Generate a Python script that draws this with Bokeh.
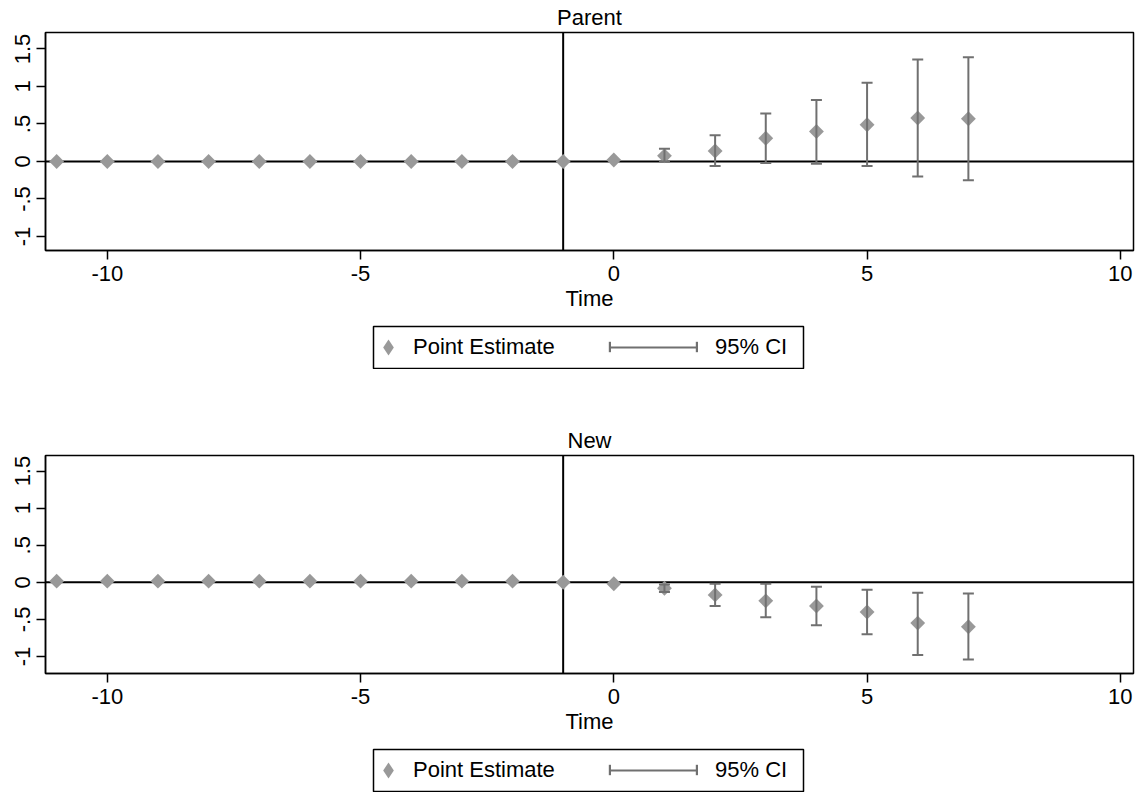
import numpy as np
from bokeh.plotting import figure
from bokeh.models import (ColumnDataSource, Span, Legend, LegendItem, FixedTicker,
                          Range1d, Spacer)
from bokeh.layouts import column, row
from bokeh.embed import file_html
from bokeh.resources import INLINE

nan = float("nan")

# ---- data ----
time = list(range(-11, 8))

parent_est = [0, 0, 0, 0, 0, 0, 0, 0, 0, 0, 0,
              0.02, 0.075, 0.14, 0.31, 0.40, 0.49, 0.58, 0.57]
parent_lo = [nan] * 12 + [0.0, -0.06, -0.02, -0.03, -0.06, -0.20, -0.25]
parent_hi = [nan] * 12 + [0.17, 0.35, 0.64, 0.82, 1.05, 1.36, 1.39]

new_est = [0.015] * 10 + [0.0, -0.02, -0.08, -0.17, -0.25, -0.32, -0.40, -0.55, -0.60]
new_lo = [nan] * 12 + [-0.13, -0.32, -0.47, -0.58, -0.70, -0.98, -1.04]
new_hi = [nan] * 12 + [-0.03, -0.02, -0.02, -0.06, -0.10, -0.14, -0.15]

x_ticks = [-10, -5, 0, 5, 10]
x_tick_labels = ["-10", "-5", "0", "5", "10"]
y_ticks = [1.5, 1, 0.5, 0, -0.5, -1]
y_tick_labels = ["1.5", "1", ".5", "0", "-.5", "-1"]

titles = ["Parent", "New"]
legend_labels = ["Point Estimate", "95% CI"]
x_label = "Time"

FONT = "Liberation Sans"
DIAMOND = "#999999"
BAR = "#707070"


def make_panel(title, src, y_rng, top_border):
    p = figure(frame_width=1088, frame_height=218,
               x_range=Range1d(-11.22, 10.26), y_range=Range1d(*y_rng),
               output_backend="svg", toolbar_location=None, title=title,
               min_border_left=45, min_border_right=12,
               min_border_top=top_border, min_border_bottom=75)
    p.title.align = "center"
    p.title.text_font = FONT
    p.title.text_font_size = "22px"
    p.title.text_font_style = "normal"
    p.title.text_color = "black"
    p.title.standoff = 5
    p.grid.visible = False
    p.outline_line_color = "black"
    p.outline_line_width = 1.5
    p.outline_line_alpha = 1.0
    p.background_fill_color = "white"
    p.border_fill_color = "white"

    p.add_layout(Span(location=0, dimension="width", line_color="black",
                      line_width=2, level="underlay"))
    p.add_layout(Span(location=-1, dimension="height", line_color="black",
                      line_width=2, level="underlay"))

    p.scatter("t", "est", source=src, marker="square", angle=np.pi / 4,
              size=10.5, fill_color=DIAMOND, line_color=None)
    p.segment("t", "lo", "t", "hi", source=src, line_color=BAR, line_width=2)
    p.scatter("t", "lo", source=src, marker="dash", size=11, line_color=BAR, line_width=2)
    p.scatter("t", "hi", source=src, marker="dash", size=11, line_color=BAR, line_width=2)

    for ax in (p.xaxis, p.yaxis):
        ax.axis_line_color = "black"
        ax.axis_line_width = 1.5
        ax.major_tick_line_color = "black"
        ax.major_tick_line_width = 1.5
        ax.major_tick_out = 9
        ax.major_tick_in = 0
        ax.minor_tick_line_color = None
        ax.major_label_text_font = FONT
        ax.major_label_text_font_size = "22px"
        ax.major_label_text_color = "black"

    p.xaxis.ticker = FixedTicker(ticks=x_ticks)
    p.xaxis.major_label_overrides = dict(zip(x_ticks, x_tick_labels))
    p.xaxis.major_label_standoff = 6
    p.xaxis.axis_label = x_label
    p.xaxis.axis_label_text_font = FONT
    p.xaxis.axis_label_text_font_size = "22px"
    p.xaxis.axis_label_text_font_style = "normal"
    p.xaxis.axis_label_text_color = "black"
    p.xaxis.axis_label_standoff = 2

    p.yaxis.ticker = FixedTicker(ticks=y_ticks)
    p.yaxis.major_label_overrides = dict(zip(y_ticks, y_tick_labels))
    p.yaxis.major_label_orientation = "vertical"
    p.yaxis.major_label_standoff = 6
    return p


def make_legend(src):
    # the legend box is its own small plot whose outline is the legend border
    lf = figure(frame_width=430, frame_height=42, x_range=Range1d(0, 1),
                y_range=Range1d(0, 1), x_axis_type=None, y_axis_type=None,
                output_backend="svg", toolbar_location=None,
                min_border_left=2, min_border_right=2,
                min_border_top=1, min_border_bottom=1)
    lf.outline_line_color = "black"
    lf.outline_line_width = 1.5
    lf.outline_line_alpha = 1.0
    lf.background_fill_color = "white"
    lf.border_fill_color = "white"
    # key renderers (not shown in this box; they only supply the legend keys)
    diam = lf.scatter("t", "est", source=src, marker="diamond", fill_color=DIAMOND,
                      line_color=None, visible=False)
    seg = lf.segment("t", "lo", "t", "hi", source=src, line_color=BAR,
                     line_width=2, visible=False)
    cap = lf.vbar(x="t", top="hi", bottom="lo", width=0.2, source=src,
                  fill_color=BAR, line_color=None, visible=False)
    common = dict(orientation="horizontal", label_text_font=FONT,
                  label_text_font_size="22px", label_text_color="black",
                  padding=0, margin=0, border_line_color=None,
                  background_fill_alpha=0.0, inactive_fill_alpha=0.0)
    leg_a = Legend(items=[LegendItem(label=legend_labels[0], renderers=[diam])],
                   location=(-5, 1), glyph_width=40, glyph_height=40,
                   label_standoff=5, **common)
    leg_b = Legend(items=[LegendItem(label=legend_labels[1], renderers=[seg])],
                   location=(237, 1), glyph_width=87, glyph_height=40,
                   label_standoff=18, **common)
    lf.add_layout(leg_a)
    lf.add_layout(leg_b)
    # whisker end caps of the CI key
    for cx in (235, 322):
        lf.add_layout(Legend(items=[LegendItem(label="", renderers=[cap])],
                             location=(cx, 15), glyph_width=3, glyph_height=13,
                             label_standoff=0, label_width=0, label_height=0,
                             **common))
    return row(Spacer(width=371, height=44), lf)


src1 = ColumnDataSource(dict(t=time, est=parent_est, lo=parent_lo, hi=parent_hi))
src2 = ColumnDataSource(dict(t=time, est=new_est, lo=new_lo, hi=new_hi))

p1 = make_panel(titles[0], src1, (-1.187, 1.72), 0)
p2 = make_panel(titles[1], src2, (-1.23, 1.71), 86)

layout = column(p1, make_legend(src1), p2, make_legend(src2), spacing=0)
open("out.html", "w").write(file_html(layout, INLINE))
